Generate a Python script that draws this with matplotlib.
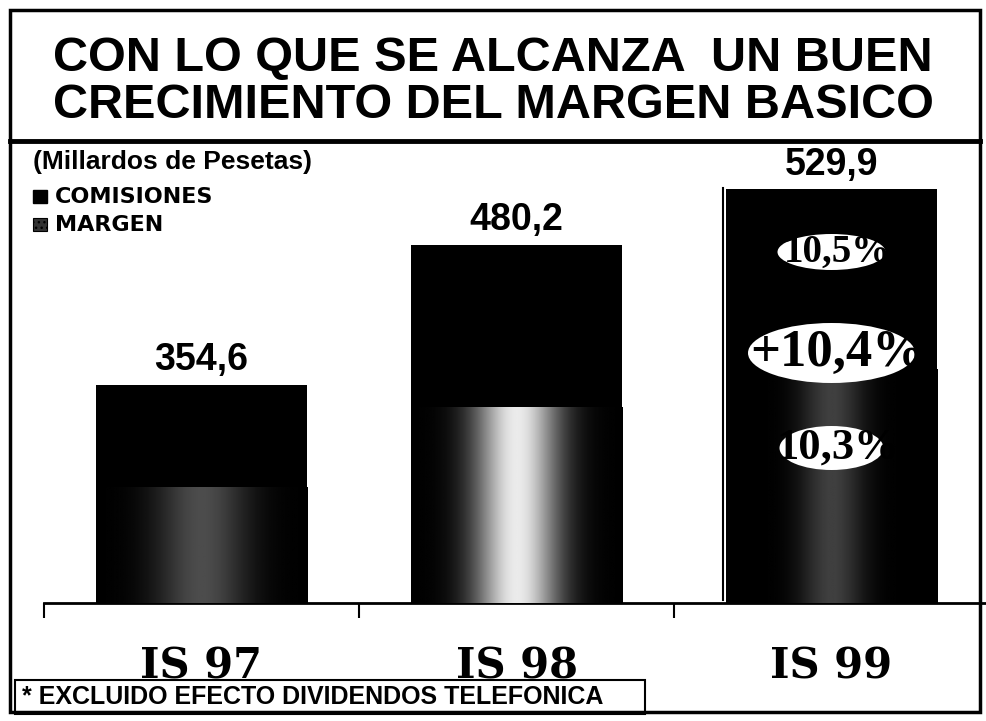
import numpy as np
import matplotlib.pyplot as plt
from matplotlib.patches import Rectangle, Ellipse
from matplotlib.lines import Line2D

# Millardos de pesetas
categorias = ["IS 97", "IS 98", "IS 99"]
margen_basico = [354.6, 480.2, 529.9]   # total de la barra (margen + comisiones)
margen = [263.0, 334.0, 368.0]          # tramo inferior (margen)
crecimientos = ["10,5%", "+10,4%", "10,3%"]

W, H = 986, 721
fig = plt.figure(figsize=(W / 100, H / 100), dpi=100)


def fx(x):
    return x / W


def fy(y):
    return 1 - y / H


# marco general y caja del titulo
fig.add_artist(Rectangle((fx(10), fy(712)), fx(980) - fx(10), fy(10) - fy(712),
                         transform=fig.transFigure, fill=False, ec="black", lw=2.5))
fig.add_artist(Line2D([fx(10), fx(980)], [fy(141), fy(141)],
                      transform=fig.transFigure, color="black", lw=3.5))

fig.text(0.5, fy(82), "CON LO QUE SE ALCANZA  UN BUEN\nCRECIMIENTO DEL MARGEN BASICO",
         ha="center", va="center", fontsize=35, fontweight="bold",
         family="Liberation Sans", linespacing=1.05)

# ejes: linea base en y=603 px, escala truncada
ax = fig.add_axes([fx(44), fy(603), fx(989) - fx(44), fy(150) - fy(603)])
y0 = 159.0
y1 = y0 + 453 / 1.115
ax.set_xlim(-0.5, 2.5)
ax.set_ylim(y0, y1)
ax.patch.set_alpha(0)
for s in ["top", "right", "left"]:
    ax.spines[s].set_visible(False)
ax.spines["bottom"].set_linewidth(2)
ax.set_yticks([])
ax.set_xticks([-0.5, 0.5, 1.5])
ax.set_xticklabels([])
ax.tick_params(axis="x", direction="out", length=11, width=1.5)

x = np.arange(len(categorias))
ancho = 0.67
ax.bar(x, margen_basico, width=ancho, color="black", zorder=2)

# tramo de margen con degradado horizontal (negro - claro - negro)
brillo = [0.3, 0.92, 0.25]
dispersion = [0.22, 0.2, 0.15]
t = np.linspace(0, 1, 300)
for i in range(len(categorias)):
    perfil = brillo[i] * np.exp(-((t - 0.5) / dispersion[i]) ** 2)
    ax.imshow(perfil[np.newaxis, :], cmap="gray", vmin=0, vmax=1, aspect="auto",
              extent=[x[i] - ancho / 2, x[i] + ancho / 2, y0, margen[i]],
              interpolation="bilinear", zorder=3)
ax.set_xlim(-0.5, 2.5)
ax.set_ylim(y0, y1)

for i, v in enumerate(margen_basico):
    ax.annotate(f"{v:.1f}".replace(".", ","), (x[i], v), xytext=(0, 5),
                textcoords="offset points", ha="center", va="bottom",
                fontsize=27, fontweight="bold", family="Liberation Sans")

for i, c in enumerate(categorias):
    ax.text(x[i], -0.14, c, transform=ax.get_xaxis_transform(), ha="center",
            va="center", fontsize=30, fontweight="heavy", family="DejaVu Serif")

# porcentajes de crecimiento en ovalos blancos sobre la barra IS 99
def ydat(ypx):
    return y0 + (603 - ypx) * (y1 - y0) / 453


ovalos = [(252, 108, 36, 28), (353, 167, 60, 38), (448, 104, 44, 32)]
for etiqueta, (yc, ew, eh, fs) in zip(crecimientos, ovalos):
    el = Ellipse((x[2], ydat(yc)), ew / 315, eh * (y1 - y0) / 453,
                 facecolor="white", edgecolor="none", zorder=4)
    ax.add_patch(el)
    tx = ax.text(x[2] + 0.02, ydat(yc), etiqueta, ha="center", va="center",
                 fontsize=fs, fontweight="bold", family="Liberation Serif",
                 zorder=5)
    tx.set_clip_path(el)

# linea vertical junto a la barra IS 99
fig.add_artist(Line2D([fx(723), fx(723)], [fy(188), fy(600)],
                      transform=fig.transFigure, color="black", lw=1.5))

# leyenda
fig.text(fx(33), fy(162), "(Millardos de Pesetas)", ha="left", va="center",
         fontsize=19, fontweight="bold", family="Liberation Sans")
fig.add_artist(Rectangle((fx(33), fy(203)), fx(14), 13 / H,
                         transform=fig.transFigure, fc="black", ec="black"))
fig.text(fx(55), fy(197), "COMISIONES", ha="left", va="center",
         fontsize=16, fontweight="bold", family="DejaVu Sans")
fig.add_artist(Rectangle((fx(33), fy(231)), fx(14), 13 / H,
                         transform=fig.transFigure, fc="#333333", ec="black",
                         hatch="...", lw=0.8))
fig.text(fx(55), fy(225), "MARGEN", ha="left", va="center",
         fontsize=16, fontweight="bold", family="DejaVu Sans")

# nota al pie
fig.add_artist(Rectangle((fx(15), fy(714)), fx(645) - fx(15), fy(680) - fy(714),
                         transform=fig.transFigure, fill=False, ec="black", lw=1.5))
fig.text(fx(22), fy(697), "* EXCLUIDO EFECTO DIVIDENDOS TELEFONICA", ha="left",
         va="center", fontsize=18, fontweight="bold", family="Liberation Sans")

fig.savefig("out.png", dpi=100)
